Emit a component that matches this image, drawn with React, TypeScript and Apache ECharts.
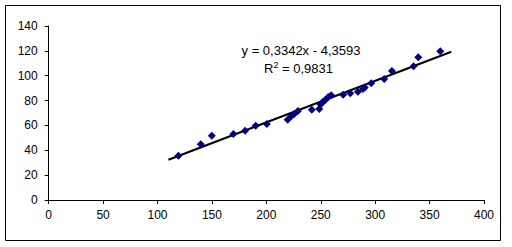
import React, { useEffect, useRef } from "react";
import * as echarts from "echarts";

const xValues = [119.2, 139.7, 149.9, 169.7, 180.5, 190.2, 200.5, 219.6, 222.8, 225.6, 229, 241.8, 248.6, 249.9, 251.8, 254.1, 256.8, 259.6, 270.6, 277.1, 284.1, 288.7, 290.4, 296.4, 308.3, 315.4, 335.3, 339.6, 359.8];
const yValues = [35.6, 44.8, 51.7, 53.1, 55.8, 59.8, 61.1, 64.6, 67.3, 69.2, 71.6, 72.6, 73.2, 76.8, 78.8, 80.5, 82.9, 84.2, 84.7, 85.8, 87.1, 89.3, 90.5, 93.9, 97.3, 103.8, 107.6, 114.8, 119.7];
const slope = 0.3342;
const intercept = -4.3593;
const trendRange = [110, 370];
const equationText = "y = 0,3342x - 4,3593";
const r2Text = "0,9831";

export default function App() {
  const ref = useRef<HTMLDivElement>(null);
  useEffect(() => {
    document.body.style.margin = "0";
    const chart = echarts.init(ref.current!, null, { renderer: "svg" });
    const points = xValues.map((x, i) => [x, yValues[i]]);
    const trend = trendRange.map((x) => [x, slope * x + intercept]);
    const font = "Liberation Sans, Arial, sans-serif";
    chart.setOption({
      animation: false,
      backgroundColor: "#fff",
      grid: { left: 48.7, right: 28, top: 26, bottom: 47, containLabel: false },
      xAxis: {
        type: "value",
        min: 0,
        max: 400,
        interval: 50,
        axisLine: { show: true, lineStyle: { color: "#000", width: 1 } },
        axisTick: { show: true, length: 4, lineStyle: { color: "#000" } },
        axisLabel: { color: "#000", fontSize: 12, fontFamily: font, margin: 9 },
        splitLine: { show: false },
      },
      yAxis: {
        type: "value",
        min: 0,
        max: 140,
        interval: 20,
        axisLine: { show: true, lineStyle: { color: "#000", width: 1 } },
        axisTick: { show: true, length: 4, lineStyle: { color: "#000" } },
        axisLabel: { color: "#000", fontSize: 12, fontFamily: font, margin: 11 },
        splitLine: { show: false },
      },
      series: [
        {
          type: "line",
          data: trend,
          symbol: "none",
          lineStyle: { color: "#000", width: 2 },
          z: 2,
        },
        {
          type: "scatter",
          data: points,
          symbol: "diamond",
          symbolSize: 8,
          itemStyle: { color: "#000080", opacity: 1 },
          z: 3,
        },
      ],
      graphic: [
        {
          type: "rect",
          shape: { x: 5.5, y: 5.5, width: 495, height: 235 },
          style: { fill: "none", stroke: "#000", lineWidth: 1 },
          silent: true,
        },
        {
          type: "text",
          x: 301,
          y: 50,
          style: {
            text: equationText,
            fontSize: 13,
            fontFamily: font,
            fill: "#000",
            align: "center",
            verticalAlign: "middle",
          },
        },
        {
          type: "text",
          x: 298.5,
          y: 67.5,
          style: {
            text: "{a|R}{s|2}{a| = " + r2Text + "}",
            align: "center",
            verticalAlign: "middle",
            rich: {
              a: { fontSize: 13, fontFamily: font, fill: "#000", verticalAlign: "bottom" },
              s: { fontSize: 9, fontFamily: font, fill: "#000", verticalAlign: "top", padding: [0, 0, 6, 0] },
            },
          },
        },
      ],
    });
    return () => chart.dispose();
  }, []);
  return <div ref={ref} style={{ width: 512, height: 247 }} />;
}
